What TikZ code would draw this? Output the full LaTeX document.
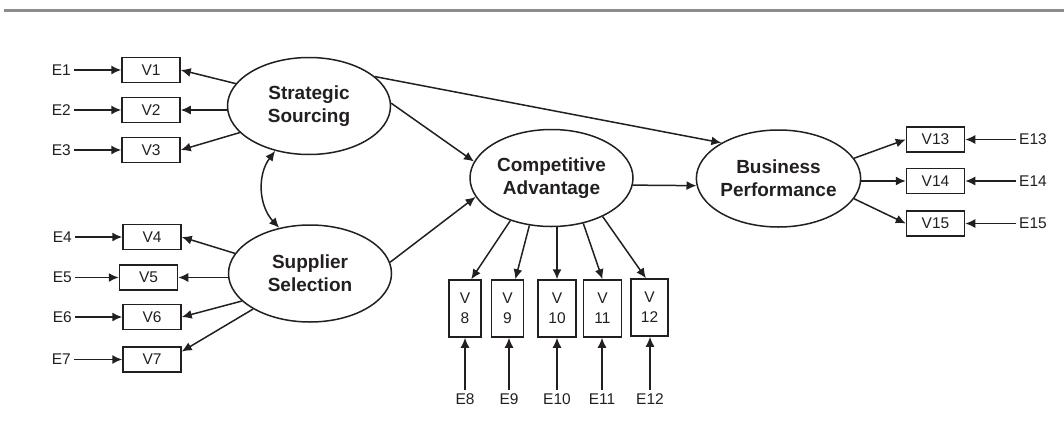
\documentclass[tikz,border=0pt]{standalone}
\usepackage{fontspec}
\setmainfont{Liberation Sans}
\usetikzlibrary{shapes.geometric,arrows.meta,calc}
\definecolor{ink}{HTML}{231F20}
\tikzset{
  lat/.style={ellipse, draw=ink, line width=1.5pt, minimum width=163pt, minimum height=97pt, align=center, text=ink, font=\bfseries\fontsize{19}{23}\selectfont, inner sep=0pt},
  obs/.style={draw=ink, line width=1.5pt, minimum width=58pt, minimum height=25pt, inner sep=0pt, text=ink, font=\fontsize{15.5}{18}\selectfont},
  obsv/.style={draw=ink, line width=1.5pt, minimum width=32pt, minimum height=57pt, inner sep=0pt, align=center, text=ink, font=\fontsize{15.5}{20}\selectfont},
  err/.style={text=ink, font=\fontsize{15.5}{18}\selectfont, inner sep=3pt},
  arr/.style={draw=ink, line width=1.5pt, -{Latex[length=10pt,width=9pt]}},
  darr/.style={draw=ink, line width=1.5pt, {Latex[length=10pt,width=9pt]}-{Latex[length=10pt,width=9pt]}}
}
\begin{document}
\begin{tikzpicture}[x=1pt,y=-1pt]
\useasboundingbox (0,0) rectangle (1064,431);
\draw[line width=3pt, black!45] (4,10) -- (1064,10);

% latent variables
\node[lat] (SS) at (309,106) {Strategic\\Sourcing};
\node[lat] (SupSel) at (310,273.5) {Supplier\\Selection};
\node[lat] (CA) at (551.5,178) {Competitive\\Advantage};
\node[lat] (BP) at (778.5,178.5) {Business\\Performance};

% left observed
\node[obs] (V1) at (151,70) {V1};
\node[obs] (V2) at (151,110) {V2};
\node[obs] (V3) at (151,150) {V3};
\node[obs] (V4) at (152,237) {V4};
\node[obs] (V5) at (148.5,277.5) {V5};
\node[obs] (V6) at (152,317) {V6};
\node[obs] (V7) at (152,359.5) {V7};

\node[err, anchor=east] (E1) at (74,70) {E1};
\node[err, anchor=east] (E2) at (74,110) {E2};
\node[err, anchor=east] (E3) at (74,150) {E3};
\node[err, anchor=east] (E4) at (75,237) {E4};
\node[err, anchor=east] (E5) at (75,277.5) {E5};
\node[err, anchor=east] (E6) at (75,317) {E6};
\node[err, anchor=east] (E7) at (74,359.5) {E7};

% bottom observed
\node[obsv] (V8) at (465,308.5) {V\\8};
\node[obsv] (V9) at (507.5,308.5) {V\\9};
\node[obsv, minimum width=38pt] (V10) at (557,308.5) {V\\10};
\node[obsv, minimum width=38pt] (V11) at (602.5,308.5) {V\\11};
\node[obsv, minimum width=37pt] (V12) at (649.5,307.5) {V\\12};

\node[err, anchor=base] (E8) at (465,404) {E8};
\node[err, anchor=base] (E9) at (509,404) {E9};
\node[err, anchor=base] (E10) at (557,404) {E10};
\node[err, anchor=base] (E11) at (602,404) {E11};
\node[err, anchor=base] (E12) at (650,404) {E12};

% right observed
\node[obs] (V13) at (935.5,139.5) {V13};
\node[obs] (V14) at (935.5,181) {V14};
\node[obs] (V15) at (935.5,223.5) {V15};

\node[err, anchor=west] (E13) at (1016,139.5) {E13};
\node[err, anchor=west] (E14) at (1016,181) {E14};
\node[err, anchor=west] (E15) at (1016,223.5) {E15};

% error arrows
\foreach \i in {1,...,7} \draw[arr] (E\i) -- (V\i);
\foreach \i in {8,...,12} \draw[arr] (E\i.north) -- (V\i.south -| E\i.north);
\foreach \i in {13,14,15} \draw[arr] (E\i) -- (V\i);

% loadings
\draw[arr] (SS.163) -- (V1.east);
\draw[arr] (V2.east -| SS.west) -- (V2.east);
\draw[arr] (SS.201) -- (V3.east);
\draw[arr] (SupSel.165) -- (V4.east);
\draw[arr] (V5.east -| SupSel.west) -- (V5.east);
\draw[arr] (SupSel.202) -- (V6.east);
\draw[arr] (SupSel.212) -- (V7.15);

\draw[arr] (CA.226) -- (V8.78);
\draw[arr] (CA.245) -- (V9.75);
\draw[arr] (V10.north |- CA.south) -- (V10.north);
\draw[arr] (CA.305) -- (V11.north);
\draw[arr] (CA.323) -- (V12.97);

\draw[arr] (BP.15) -- (V13.west);
\draw[arr] (V14.west -| BP.east) -- (V14.west);
\draw[arr] (BP.345) -- (V15.west);

% structural paths
\draw[darr] (SS.233) to[bend right=40] (SupSel.124);
\draw[arr] (SS.2) -- (CA.168);
\draw[arr] (SupSel.8) -- (CA.194);
\draw[arr] (SS.24) -- (BP.148);
\draw[arr] (CA.355) -- (BP.185);
\end{tikzpicture}
\end{document}
